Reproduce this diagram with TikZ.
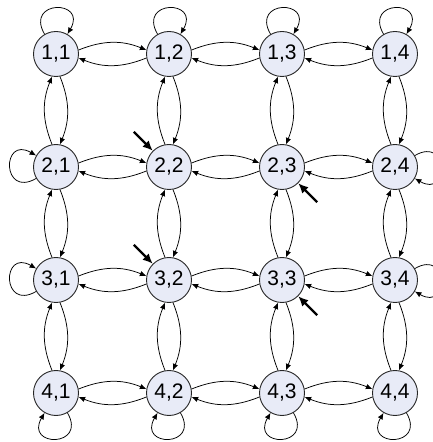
\documentclass[tikz,border=0pt]{standalone}
\usepackage{fontspec}
\setmainfont{Liberation Sans}
\usetikzlibrary{positioning,arrows.meta}
\definecolor{cellfill}{HTML}{E8EBF7}

\begin{document}
\begin{tikzpicture}[x=113pt,y=113pt,
  cell/.style={circle,draw=black!85,line width=0.9pt,fill=cellfill,minimum size=45pt,inner sep=0pt,font=\fontsize{21}{24}\selectfont},
  link/.style={-{Latex[length=6.5pt,width=5.5pt]},line width=0.75pt},
  selfloop/.style={-{Latex[length=6.5pt,width=5.5pt]},line width=0.75pt,min distance=40pt},
  hint/.style={-{Latex[length=10pt,width=9pt]},line width=2.4pt}]
  \useasboundingbox (-56pt,-49pt) rectangle (376pt,393pt);
  \node[cell] (s11) at (0,3) {1,1};
  \node[cell] (s12) at (1,3) {1,2};
  \node[cell] (s13) at (2,3) {1,3};
  \node[cell] (s14) at (3,3) {1,4};
  \node[cell] (s21) at (0,2) {2,1};
  \node[cell] (s22) at (1,2) {2,2};
  \node[cell] (s23) at (2,2) {2,3};
  \node[cell] (s24) at (3,2) {2,4};
  \node[cell] (s31) at (0,1) {3,1};
  \node[cell] (s32) at (1,1) {3,2};
  \node[cell] (s33) at (2,1) {3,3};
  \node[cell] (s34) at (3,1) {3,4};
  \node[cell] (s41) at (0,0) {4,1};
  \node[cell] (s42) at (1,0) {4,2};
  \node[cell] (s43) at (2,0) {4,3};
  \node[cell] (s44) at (3,0) {4,4};
  % rows
  \draw[link] (s11.10) to[bend left=22] (s12.170);
  \draw[link] (s12.-170) to[bend left=22] (s11.-10);
  \draw[link] (s12.10) to[bend left=22] (s13.170);
  \draw[link] (s13.-170) to[bend left=22] (s12.-10);
  \draw[link] (s13.10) to[bend left=22] (s14.170);
  \draw[link] (s14.-170) to[bend left=22] (s13.-10);
  \draw[link] (s21.10) to[bend left=22] (s22.170);
  \draw[link] (s22.-170) to[bend left=22] (s21.-10);
  \draw[link] (s22.10) to[bend left=22] (s23.170);
  \draw[link] (s23.-170) to[bend left=22] (s22.-10);
  \draw[link] (s23.10) to[bend left=22] (s24.170);
  \draw[link] (s24.-170) to[bend left=22] (s23.-10);
  \draw[link] (s31.10) to[bend left=22] (s32.170);
  \draw[link] (s32.-170) to[bend left=22] (s31.-10);
  \draw[link] (s32.10) to[bend left=22] (s33.170);
  \draw[link] (s33.-170) to[bend left=22] (s32.-10);
  \draw[link] (s33.10) to[bend left=22] (s34.170);
  \draw[link] (s34.-170) to[bend left=22] (s33.-10);
  \draw[link] (s41.10) to[bend left=22] (s42.170);
  \draw[link] (s42.-170) to[bend left=22] (s41.-10);
  \draw[link] (s42.10) to[bend left=22] (s43.170);
  \draw[link] (s43.-170) to[bend left=22] (s42.-10);
  \draw[link] (s43.10) to[bend left=22] (s44.170);
  \draw[link] (s44.-170) to[bend left=22] (s43.-10);
  % columns
  \draw[link] (s11.-80) to[bend left=22] (s21.80);
  \draw[link] (s21.100) to[bend left=22] (s11.-100);
  \draw[link] (s21.-80) to[bend left=22] (s31.80);
  \draw[link] (s31.100) to[bend left=22] (s21.-100);
  \draw[link] (s31.-80) to[bend left=22] (s41.80);
  \draw[link] (s41.100) to[bend left=22] (s31.-100);
  \draw[link] (s12.-80) to[bend left=22] (s22.80);
  \draw[link] (s22.100) to[bend left=22] (s12.-100);
  \draw[link] (s22.-80) to[bend left=22] (s32.80);
  \draw[link] (s32.100) to[bend left=22] (s22.-100);
  \draw[link] (s32.-80) to[bend left=22] (s42.80);
  \draw[link] (s42.100) to[bend left=22] (s32.-100);
  \draw[link] (s13.-80) to[bend left=22] (s23.80);
  \draw[link] (s23.100) to[bend left=22] (s13.-100);
  \draw[link] (s23.-80) to[bend left=22] (s33.80);
  \draw[link] (s33.100) to[bend left=22] (s23.-100);
  \draw[link] (s33.-80) to[bend left=22] (s43.80);
  \draw[link] (s43.100) to[bend left=22] (s33.-100);
  \draw[link] (s14.-80) to[bend left=22] (s24.80);
  \draw[link] (s24.100) to[bend left=22] (s14.-100);
  \draw[link] (s24.-80) to[bend left=22] (s34.80);
  \draw[link] (s34.100) to[bend left=22] (s24.-100);
  \draw[link] (s34.-80) to[bend left=22] (s44.80);
  \draw[link] (s44.100) to[bend left=22] (s34.-100);
  % self loops
  \draw[selfloop] (s11.120) to[out=120,in=60] (s11.60);
  \draw[selfloop] (s12.120) to[out=120,in=60] (s12.60);
  \draw[selfloop] (s13.120) to[out=120,in=60] (s13.60);
  \draw[selfloop] (s14.120) to[out=120,in=60] (s14.60);
  \draw[selfloop] (s21.210) to[out=210,in=150] (s21.150);
  \draw[selfloop] (s31.210) to[out=210,in=150] (s31.150);
  \draw[selfloop] (s24.30) to[out=30,in=-30] (s24.-30);
  \draw[selfloop] (s34.30) to[out=30,in=-30] (s34.-30);
  \draw[selfloop] (s41.-60) to[out=-60,in=-120] (s41.-120);
  \draw[selfloop] (s42.-60) to[out=-60,in=-120] (s42.-120);
  \draw[selfloop] (s43.-60) to[out=-60,in=-120] (s43.-120);
  \draw[selfloop] (s44.-60) to[out=-60,in=-120] (s44.-120);
  % bold pointers
  \coordinate[above left=19pt and 19pt of s22.135] (h22);
  \coordinate[above left=19pt and 19pt of s32.135] (h32);
  \coordinate[below right=19pt and 19pt of s23.-45] (h23);
  \coordinate[below right=19pt and 19pt of s33.-45] (h33);
  \draw[hint] (h22) -- (s22.135);
  \draw[hint] (h32) -- (s32.135);
  \draw[hint] (h23) -- (s23.-45);
  \draw[hint] (h33) -- (s33.-45);
\end{tikzpicture}
\end{document}
